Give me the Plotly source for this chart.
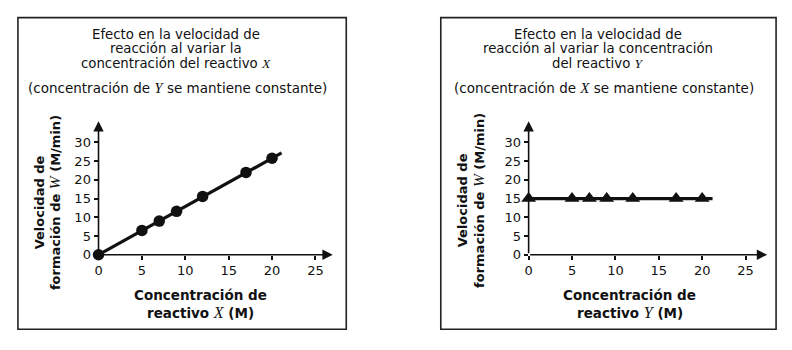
import plotly.graph_objects as go

# ---- data ----
conc_points = [0, 5, 7, 9, 12, 17, 20]
rate_vs_x = [0, 6.5, 9, 11.6, 15.6, 22, 25.8]
rate_vs_y = [15, 15, 15, 15, 15, 15, 15]
fit_x_conc = [0, 21.1]
fit_x_rate = [0, 27.2]
fit_y_conc = [0, 21.2]
fit_y_rate = [15, 15]
y_ticks = [0, 5, 10, 15, 20, 25, 30]
x_ticks = [0, 5, 10, 15, 20, 25]

W, H = 792, 350
def PX(p):
    return p / W
def PY(p):
    return 1 - p / H

SERIF = "'Liberation Serif'"
def it(s, size=15.5):
    return (f"<span style=\"font-family:{SERIF};font-size:{size}px;font-weight:normal\">"
            f"<i>{s}</i></span>")

FONT = "DejaVu Sans"
BLACK = "#111111"

fig = go.Figure()

# left panel
fig.add_trace(go.Scatter(x=fit_x_conc, y=fit_x_rate, mode="lines",
                         line=dict(color=BLACK, width=3.2), xaxis="x", yaxis="y",
                         cliponaxis=False, showlegend=False, hoverinfo="skip"))
fig.add_trace(go.Scatter(x=conc_points, y=rate_vs_x, mode="markers",
                         marker=dict(symbol="circle", size=11.5, color=BLACK),
                         xaxis="x", yaxis="y", cliponaxis=False, showlegend=False))
# right panel
fig.add_trace(go.Scatter(x=fit_y_conc, y=fit_y_rate, mode="lines",
                         line=dict(color=BLACK, width=3.2), xaxis="x2", yaxis="y2",
                         cliponaxis=False, showlegend=False, hoverinfo="skip"))
fig.add_trace(go.Scatter(x=conc_points, y=rate_vs_y, mode="markers",
                         marker=dict(symbol="triangle-up", size=13, color=BLACK),
                         xaxis="x2", yaxis="y2", cliponaxis=False, showlegend=False))

tickfont = dict(family=FONT, size=13, color=BLACK)
axis_common = dict(showgrid=False, zeroline=False, showline=False, ticks="outside",
                   ticklen=4, tickwidth=1.5, tickcolor=BLACK, tickfont=tickfont,
                   fixedrange=True)

y_dom = [(H - 260.7) / H, (H - 124) / H]
XMAX_L, XMAX_R, YMAX = 27, 27.5, 35.7
fig.update_layout(
    width=W, height=H, margin=dict(l=0, r=0, t=0, b=0),
    paper_bgcolor="white", plot_bgcolor="white",
    xaxis=dict(domain=[PX(95), PX(95 + XMAX_L * 8.72)], range=[0, XMAX_L],
               tickvals=x_ticks, anchor="y", **axis_common),
    yaxis=dict(domain=y_dom, range=[0, YMAX], tickvals=y_ticks, anchor="x", **axis_common),
    xaxis2=dict(domain=[PX(527.3), PX(527.3 + XMAX_R * 8.72)], range=[0, XMAX_R],
                tickvals=x_ticks, anchor="y2", **axis_common),
    yaxis2=dict(domain=y_dom, range=[0, YMAX], tickvals=y_ticks, anchor="x2", **axis_common),
)

ann = []
# axis arrows
for xr, yr, xm in (("x", "y", XMAX_L), ("x2", "y2", XMAX_R)):
    ann.append(dict(x=xm, y=0, ax=0, ay=0, xref=xr, yref=yr, axref=xr, ayref=yr,
                    text="", showarrow=True, arrowhead=2, arrowsize=1.3, arrowwidth=1.6,
                    arrowcolor=BLACK, standoff=0, startstandoff=0))
    ann.append(dict(x=0, y=YMAX, ax=0, ay=0, xref=xr, yref=yr, axref=xr, ayref=yr,
                    text="", showarrow=True, arrowhead=2, arrowsize=1.3, arrowwidth=1.6,
                    arrowcolor=BLACK, standoff=0, startstandoff=0))

def txt(s, x, y, size=13.5, angle=0):
    ann.append(dict(text=s, x=PX(x), y=PY(y), xref="paper", yref="paper",
                    xanchor="center", yanchor="middle", showarrow=False,
                    textangle=angle,
                    font=dict(family=FONT, size=size, color=BLACK)))

def b(s):
    return f"<b>{s}</b>"

# left titles
txt("Efecto en la velocidad de", 173, 35, size=13.3)
txt("reacción al variar la", 173, 50, size=13.3)
txt("concentración del reactivo " + it("X", 13.5), 173, 65, size=13.3)
txt("(concentración de " + it("Y", 15) + " se mantiene constante)", 174, 90)
# right titles
txt("Efecto en la velocidad de", 597, 35, size=13.3)
txt("reacción al variar la concentración", 597, 50, size=13.3)
txt("del reactivo " + it("Y", 13.5), 597, 65, size=13.3)
txt("(concentración de " + it("X", 15) + " se mantiene constante)", 603, 90)

# axis titles
txt(b("Concentración de"), 197, 302)
txt(b("reactivo ") + it("X", 16) + b(" (M)"), 197, 320)
txt(b("Concentración de"), 629, 302)
txt(b("reactivo ") + it("Y", 16) + b(" (M)"), 629, 320)
ytitle = b("Velocidad de") + "<br>" + b("formación de ") + it("W", 15.5) + b(" (M/min)")
txt(ytitle, 44, 207, size=13, angle=-90)
txt(ytitle, 470, 205, size=13, angle=-90)

fig.update_layout(annotations=ann)

# frames
shapes = []
for x0, x1 in ((14, 344), (439, 776)):
    shapes.append(dict(type="rect", xref="paper", yref="paper",
                       x0=PX(x0), x1=PX(x1), y0=PY(337), y1=PY(18),
                       line=dict(color="#222222", width=1.6)))
fig.update_layout(shapes=shapes)

fig.write_html("out.html")
